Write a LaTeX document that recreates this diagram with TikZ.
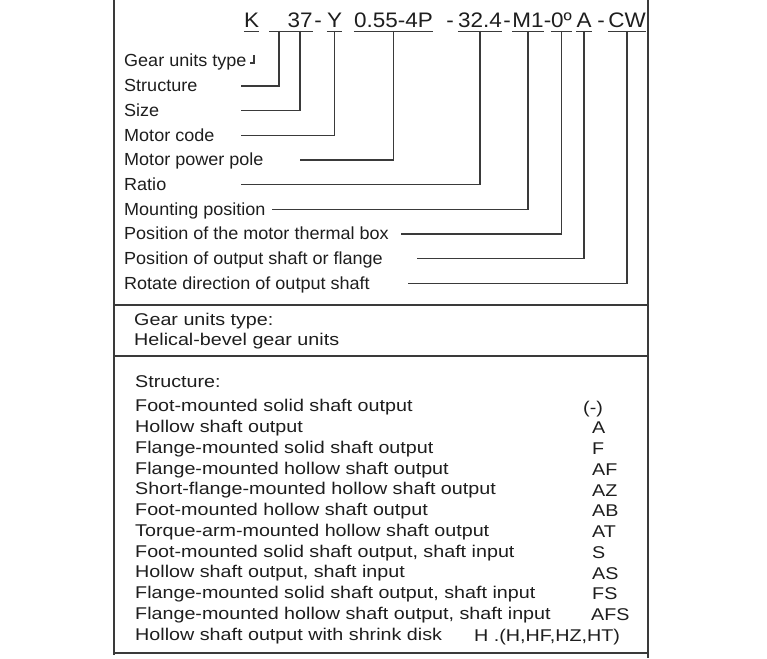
\documentclass[tikz,border=0pt]{standalone}
\usepackage{fontspec}
\setmainfont{Liberation Sans}
\newfontfamily\lblfont[FakeStretch=1.03]{Liberation Sans}
\newfontfamily\codefont[FakeStretch=1.07]{Liberation Sans}
\newfontfamily\secfont[FakeStretch=1.16]{Liberation Sans}
\definecolor{ink}{HTML}{1E1E1E}
\definecolor{rulec}{HTML}{3A3A3A}
\begin{document}
\begin{tikzpicture}[x=1pt,y=-1pt,
  lbl/.style={anchor=base west,inner sep=0pt,text=ink,font={\lblfont\fontsize{17.5}{20}\selectfont}},
  codeseg/.style={anchor=base,inner sep=0pt,text=ink,font={\codefont\fontsize{21}{23}\selectfont}},
  sectxt/.style={anchor=base west,inner sep=0pt,text=ink,font={\secfont\fontsize{17}{19}\selectfont}},
  frame/.style={draw=rulec,line width=1.3pt},
  conn/.style={draw=rulec,line width=1.1pt},
  ul/.style={draw=rulec,line width=0.9pt}]
\useasboundingbox (0,0) rectangle (767,658);
\fill[white] (0,0) rectangle (767,658);
% frame
\draw[frame] (114,0) -- (114,655);
\draw[frame] (648,0) -- (648,658);
\draw[frame] (114,305) -- (648,305);
\draw[frame] (114,356) -- (648,356);
\draw[frame] (114,653) -- (648,653);
% code line
\node[codeseg] (cK)  at (251.5,28) {K};
\node[codeseg,minimum width=19pt] (cB) at (278.5,28) {};
\node[codeseg] (c37) at (300,28) {37};
\node[codeseg] (d1)  at (318,28) {-};
\node[codeseg] (cY)  at (334.5,28) {Y};
\node[codeseg] (cP)  at (393.5,28) {0.55-4P};
\node[codeseg] (d2)  at (450,28) {-};
\node[codeseg] (cR)  at (480,28) {32.4};
\node[codeseg] (d3)  at (507,28) {-};
\node[codeseg] (cM)  at (528,28) {M1};
\node[codeseg] (d4)  at (547.5,28) {-};
\node[codeseg] (cT)  at (561.5,28) {0º};
\node[codeseg] (cA)  at (584,28) {A};
\node[codeseg] (d5)  at (601,28) {-};
\node[codeseg] (cW)  at (627,28) {CW};
\foreach \n in {cK,c37,cY,cP,cR,cM,cT,cA,cW}
  \draw[ul] ([yshift=-3pt]\n.base west) -- ([yshift=-3pt]\n.base east);
\draw[ul] (269,31) -- (288,31);
% labels
\node[lbl] (lK) at (124,67) {Gear units type};
\node[lbl] (lB) at (124,91.7) {Structure};
\node[lbl] (l37) at (124,116.3) {Size};
\node[lbl] (lY) at (124,141) {Motor code};
\node[lbl] (lP) at (124,165.7) {Motor power pole};
\node[lbl] (lR) at (124,190.3) {Ratio};
\node[lbl] (lM) at (124,215) {Mounting position};
\node[lbl] (lT) at (124,239.7) {Position of the motor thermal box};
\node[lbl] (lA) at (124,264.3) {Position of output shaft or flange};
\node[lbl] (lW) at (124,289) {Rotate direction of output shaft};
% connector free ends
\coordinate (eB) at (241,86);
\coordinate (e37) at (241,110.7);
\coordinate (eY) at (241,135.3);
\coordinate (eP) at (300,160);
\coordinate (eR) at (241,184.7);
\coordinate (eM) at (272,209.3);
\coordinate (eT) at (401,234);
\coordinate (eA) at (417,258.7);
\coordinate (eW) at (408,283.3);
\draw[conn] (254,55) -- (254,63) -- (249.5,63);
\draw[conn] (279,31) |- (eB);
\draw[conn] ([yshift=-3pt]c37.base) |- (e37);
\draw[conn] ([yshift=-3pt]cY.base) |- (eY);
\draw[conn] ([yshift=-3pt]cP.base) |- (eP);
\draw[conn] ([yshift=-3pt]cR.base) |- (eR);
\draw[conn] ([yshift=-3pt]cM.base) |- (eM);
\draw[conn] ([yshift=-3pt]cT.base) |- (eT);
\draw[conn] ([yshift=-3pt]cA.base) |- (eA);
\draw[conn] ([yshift=-3pt]cW.base) |- (eW);
% section 2
\node[sectxt] (g1) at (134,325) {Gear units type:};
\node[sectxt] (g2) at (134,345) {Helical-bevel gear units};
% section 3
\node[sectxt] (s0) at (135,387) {Structure:};
\foreach \i/\t/\c/\cx in {
  0/Foot-mounted solid shaft output/(-)/583,
  1/Hollow shaft output/A/592,
  2/Flange-mounted solid shaft output/F/592,
  3/Flange-mounted hollow shaft output/AF/592,
  4/Short-flange-mounted hollow shaft output/AZ/592,
  5/Foot-mounted hollow shaft output/AB/592,
  6/Torque-arm-mounted hollow shaft output/AT/592,
  7/{Foot-mounted solid shaft output, shaft input}/S/592,
  8/{Hollow shaft output, shaft input}/AS/592,
  9/{Flange-mounted solid shaft output, shaft input}/FS/592,
  10/{Flange-mounted hollow shaft output, shaft input}/AFS/591}
{
  \node[sectxt] (r\i) at (135,411.75+20.75*\i) {\t};
  \node[sectxt] (k\i) at (\cx,413+20.75*\i) {\c};
}
\node[sectxt] (r11) at (135,640) {Hollow shaft output with shrink disk};
\node[sectxt] (k11) at (474,641) {H .(H,HF,HZ,HT)};
\end{tikzpicture}
\end{document}
